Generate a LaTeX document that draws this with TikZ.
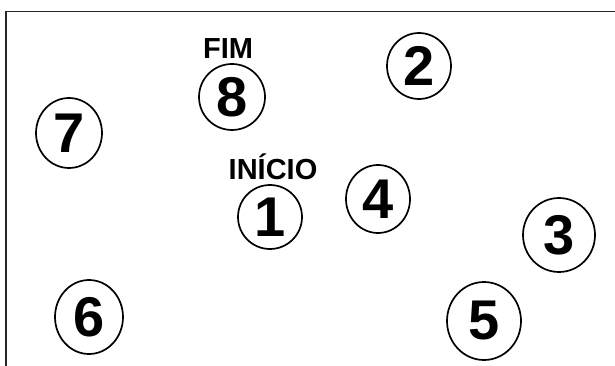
\documentclass[tikz,border=0pt]{standalone}
\usepackage{fontspec}
\setmainfont{Liberation Sans}
\usetikzlibrary{shapes.geometric}
\begin{document}
\begin{tikzpicture}[x=1pt,y=-1pt,
  num/.style={ellipse,draw=black,line width=1.7pt,inner sep=0pt,
    font=\bfseries\fontsize{56}{56}\selectfont},
  lbl/.style={font=\bfseries\fontsize{29}{29}\selectfont,inner sep=0pt}]
\useasboundingbox (0,0) rectangle (615,366);
\coordinate (tl) at (6,11.5);
\coordinate (tr) at (615,11.5);
\coordinate (bl) at (6,366);
\draw[line width=1.8pt,black!85] (tr) -- (tl) -- (bl);
\node[num,minimum width=64pt,minimum height=66pt] (n2) at (419,66) {2};
\node[num,minimum width=66pt,minimum height=66pt] (n8) at (232,97) {8};
\node[num,minimum width=66pt,minimum height=70pt] (n7) at (69,133) {7};
\node[num,minimum width=64pt,minimum height=64pt] (n1) at (270,217) {1};
\node[num,minimum width=64pt,minimum height=68pt] (n4) at (378,199) {4};
\node[num,minimum width=72pt,minimum height=74pt] (n3) at (559,235) {3};
\node[num,minimum width=74pt,minimum height=78pt] (n5) at (484,321) {5};
\node[num,minimum width=68pt,minimum height=74pt] (n6) at (89,317) {6};
\node[lbl] (fim) at (228,49) {FIM};
\node[lbl] (inicio) at (273,167) {INÍCIO};
\end{tikzpicture}
\end{document}
